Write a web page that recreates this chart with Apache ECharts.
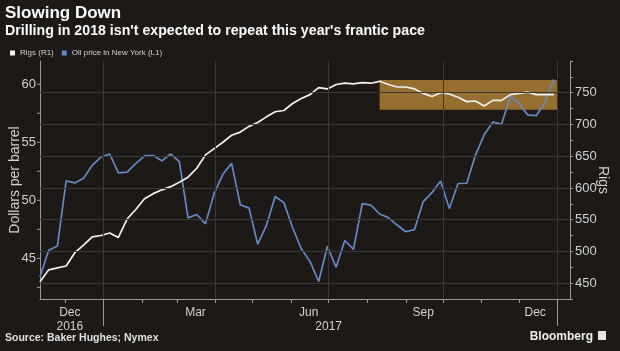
<!DOCTYPE html>
<html>
<head>
<meta charset="utf-8">
<script src="https://cdn.jsdelivr.net/npm/echarts@6/dist/echarts.min.js"></script>
<style>
html, body { margin: 0; padding: 0; background: #1c1916; }
#chart { width: 620px; height: 351px; }
</style>
</head>
<body>
<div id="chart"></div>
<script>
// weekly points (Fridays)
var weeks = [
    '2016-11-11', '2016-11-18', '2016-11-25', '2016-12-02', '2016-12-09', '2016-12-16', '2016-12-23', '2016-12-30',
    '2017-01-06', '2017-01-13', '2017-01-20', '2017-01-27', '2017-02-03', '2017-02-10', '2017-02-17', '2017-02-24',
    '2017-03-03', '2017-03-10', '2017-03-17', '2017-03-24', '2017-03-31', '2017-04-07', '2017-04-14', '2017-04-21',
    '2017-04-28', '2017-05-05', '2017-05-12', '2017-05-19', '2017-05-26', '2017-06-02', '2017-06-09', '2017-06-16',
    '2017-06-23', '2017-06-30', '2017-07-07', '2017-07-14', '2017-07-21', '2017-07-28', '2017-08-04', '2017-08-11',
    '2017-08-18', '2017-08-25', '2017-09-01', '2017-09-08', '2017-09-15', '2017-09-22', '2017-09-29', '2017-10-06',
    '2017-10-13', '2017-10-20', '2017-10-27', '2017-11-03', '2017-11-10', '2017-11-17', '2017-11-24', '2017-12-01',
    '2017-12-08', '2017-12-15', '2017-12-22', '2017-12-29'
];
var rigs = [
    452, 471, 474, 477, 498, 510, 523, 525,
    529, 522, 551, 566, 583, 591, 597, 602,
    609, 617, 631, 652, 662, 672, 683, 688,
    697, 703, 712, 720, 722, 733, 741, 747,
    758, 756, 763, 765, 764, 766, 765, 768,
    763, 759, 759, 756, 749, 744, 750, 748,
    743, 736, 737, 729, 738, 738, 747, 749,
    751, 747, 747, 747
];
var oil = [
    43.41, 45.69, 46.06, 51.68, 51.50, 51.90, 53.02, 53.72,
    53.99, 52.37, 52.42, 53.17, 53.83, 53.86, 53.40, 53.99,
    53.33, 48.49, 48.78, 47.97, 50.60, 52.24, 53.18, 49.62,
    49.33, 46.22, 47.84, 50.33, 49.80, 47.66, 45.83, 44.74,
    43.01, 46.04, 44.23, 46.54, 45.77, 49.71, 49.58, 48.82,
    48.51, 47.87, 47.29, 47.48, 49.89, 50.66, 51.67, 49.29,
    51.45, 51.47, 53.90, 55.64, 56.74, 56.55, 58.95, 58.36,
    57.36, 57.30, 58.47, 60.42
];

var axisStart = '2016-11-11', axisEnd = '2018-01-11';
var xLabelDays = ['2016-12-05', '2017-03-16', '2017-06-15', '2017-07-01', '2017-09-15', '2017-12-14'];
var xLabelText = ['Dec\n2016', 'Mar', 'Jun', '\n2017', 'Sep', 'Dec'];
var gridDays = ['2017-01-01', '2017-04-01', '2017-07-01', '2017-10-01', '2018-01-01'];
var yearDays = ['2017-01-01', '2018-01-01'];
var rigTicks = [450, 500, 550, 600, 650, 700, 750];
var boxFrom = '2017-08-11', boxTo = '2018-01-01', boxLow = 723, boxHigh = 770;

var gray = '#9a9a9a', gridColor = '#3c3935', textColor = '#d2d2d2';
var font = 'Liberation Sans, Arial, sans-serif';

function ts(s) { var p = s.split('-'); return Date.UTC(+p[0], +p[1] - 1, +p[2]); }
function ymd(t) { return new Date(t).toISOString().slice(0, 10); }

var days = [];
for (var t = ts(axisStart); t <= ts(axisEnd); t += 86400000) days.push(ymd(t));

function pairs(vals) { return weeks.map(function (d, i) { return [ts(d), vals[i]]; }); }

var gridLines = rigTicks.map(function (v) { return { yAxis: v }; })
    .concat(gridDays.map(function (d) { return { xAxis: ts(d) }; }));

var option = {
    backgroundColor: '#1c1916',
    animation: false,
    textStyle: { fontFamily: font },
    title: [
        { text: 'Slowing Down', left: 5, top: 5, padding: 0,
          textStyle: { color: '#fff', fontSize: 17, fontWeight: 'bold', fontFamily: font } },
        { text: "Drilling in 2018 isn't expected to repeat this year's frantic pace", left: 5, top: 24, padding: 0,
          textStyle: { color: '#fff', fontSize: 14.2, fontWeight: 'bold', fontFamily: font } },
        { text: 'Source: Baker Hughes; Nymex', left: 5, top: 333, padding: 0,
          textStyle: { color: '#e0e0e0', fontSize: 10.5, fontWeight: 'bold', fontFamily: font } },
        { text: 'Bloomberg', right: 27, top: 331, padding: 0,
          textStyle: { color: '#eee', fontSize: 12, fontWeight: 'bold', fontFamily: font } }
    ],
    graphic: [
        { type: 'rect', left: 598, top: 331, shape: { width: 8, height: 9 }, style: { fill: '#e6e6e6' } }
    ],
    legend: {
        left: 10, top: 49, padding: 0, icon: 'rect', itemWidth: 5, itemHeight: 5, itemGap: 8,
        textStyle: { color: textColor, fontSize: 8, fontFamily: font },
        data: ['Rigs (R1)', 'Oil price in New York (L1)']
    },
    grid: { left: 40, right: 50, top: 61, bottom: 52, containLabel: false, outerBoundsMode: 'none' },
    xAxis: [
        { type: 'time', show: false, min: ts(axisStart), max: ts(axisEnd) },
        {
            type: 'category', data: days, boundaryGap: false, position: 'bottom',
            axisLine: { show: true, lineStyle: { color: gray, width: 1 } },
            axisTick: { show: true, length: 4, lineStyle: { color: gray },
                interval: function (i, v) { return v.slice(8) === '01'; } },
            axisLabel: { show: true, color: textColor, fontSize: 12, lineHeight: 14, margin: 7,
                interval: function (i, v) { return xLabelDays.indexOf(v) >= 0; },
                formatter: function (v) { return xLabelText[xLabelDays.indexOf(v)]; } },
            splitLine: { show: false }
        },
        {
            type: 'category', data: days, boundaryGap: false, position: 'bottom',
            axisLine: { show: false }, axisLabel: { show: false }, splitLine: { show: false },
            axisTick: { show: true, length: 27, lineStyle: { color: gray },
                interval: function (i, v) { return yearDays.indexOf(v) >= 0; } }
        }
    ],
    yAxis: [
        {
            type: 'value', position: 'right', min: 425, max: 800, interval: 25,
            name: 'Rigs', nameLocation: 'middle', nameRotate: -90, nameGap: 26, nameMoveOverlap: false,
            nameTextStyle: { color: textColor, fontSize: 14 },
            axisLine: { show: true, lineStyle: { color: gray } },
            axisTick: { show: true, length: 3, lineStyle: { color: gray } },
            axisLabel: { color: textColor, fontSize: 13, margin: 5,
                formatter: function (v) { return rigTicks.indexOf(v) >= 0 ? String(v) : ''; } },
            splitLine: { show: false }
        },
        {
            type: 'value', position: 'left', min: 41.5, max: 62, interval: 0.5,
            name: 'Dollars per barrel', nameLocation: 'middle', nameGap: 18, nameMoveOverlap: false,
            nameTextStyle: { color: textColor, fontSize: 14 },
            axisLine: { show: true, lineStyle: { color: gray } },
            axisTick: { show: false },
            axisLabel: { margin: 0,
                formatter: function (v) {
                    if (Math.abs(v % 5) < 1e-6) return '{v|' + v + '}{t|}';
                    if (Math.abs(v % 2.5) < 1e-6) return '{t|}';
                    return '';
                },
                rich: {
                    v: { color: textColor, fontSize: 13, padding: [0, 1, 0, 0] },
                    t: { width: 3, height: 1, backgroundColor: gray }
                } },
            splitLine: { show: false }
        }
    ],
    series: [
        {
            name: 'grid', type: 'line', xAxisIndex: 0, yAxisIndex: 0, data: [], z: 1, silent: true,
            markLine: { silent: true, symbol: ['none', 'none'], label: { show: false },
                lineStyle: { color: gridColor, width: 1, type: 'solid' }, data: gridLines }
        },
        {
            name: 'Oil price in New York (L1)', type: 'line', xAxisIndex: 0, yAxisIndex: 1, z: 3,
            data: pairs(oil), showSymbol: false, symbol: 'none',
            itemStyle: { color: '#6389c6' }, lineStyle: { color: '#6389c6', width: 1.7 }
        },
        {
            name: 'Rigs (R1)', type: 'line', xAxisIndex: 0, yAxisIndex: 0, z: 4,
            data: pairs(rigs), showSymbol: false, symbol: 'none',
            itemStyle: { color: '#f2f2f2' }, lineStyle: { color: '#f2f2f2', width: 1.7 }
        },
        {
            name: 'box', type: 'line', xAxisIndex: 0, yAxisIndex: 0, data: [], z: 10, silent: true,
            markArea: { silent: true, itemStyle: { color: 'rgba(222,160,58,0.63)' },
                data: [[{ xAxis: ts(boxFrom), yAxis: boxLow }, { xAxis: ts(boxTo), yAxis: boxHigh }]] }
        }
    ]
};

var myChart = echarts.init(document.getElementById('chart'));
myChart.setOption(option);
</script>
</body>
</html>
